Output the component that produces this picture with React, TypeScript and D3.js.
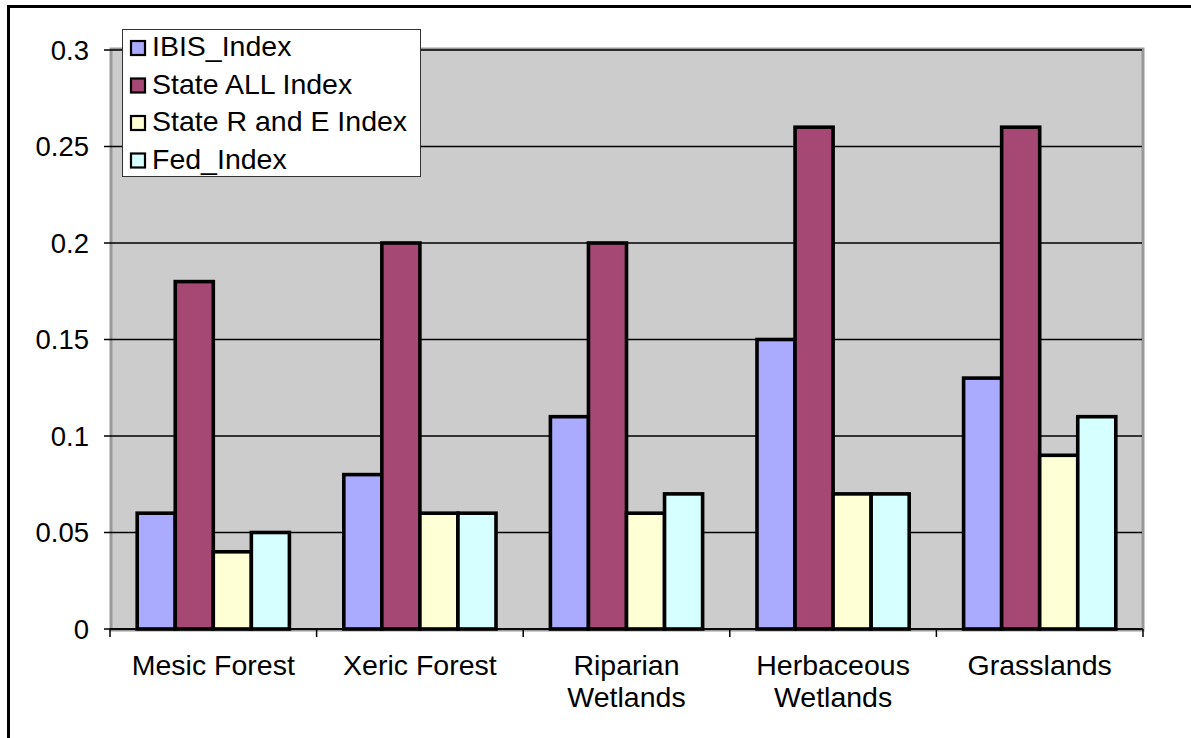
import * as d3 from "d3";

const W = 1191;
const H = 738;

const categories = [
  ["Mesic Forest"],
  ["Xeric Forest"],
  ["Riparian", "Wetlands"],
  ["Herbaceous", "Wetlands"],
  ["Grasslands"],
];
const seriesNames = ["IBIS_Index", "State ALL Index", "State R and E Index", "Fed_Index"];
const ibis = [0.06, 0.08, 0.11, 0.15, 0.13];
const stateAll = [0.18, 0.2, 0.2, 0.26, 0.26];
const stateRE = [0.04, 0.06, 0.06, 0.07, 0.09];
const fed = [0.05, 0.06, 0.07, 0.07, 0.11];
const yTicks = [0, 0.05, 0.1, 0.15, 0.2, 0.25, 0.3];

const COLORS = ["#AAAAFF", "#A64874", "#FFFFD6", "#D6FFFF"];
const FONT = "'Liberation Sans', Arial, sans-serif";

const PL = 110;
const PR = 1143;
const PT = 50;
const PB = 629;

export default function App() {
  const series = [ibis, stateAll, stateRE, fed];
  const idx = categories.map((_, i) => i);

  const x0 = d3.scaleBand<number>().domain(idx).range([PL, PR]).padding(0);
  const gap = 1.43;
  const inner = (x0.bandwidth() * 4) / (4 + gap);
  const x1 = d3
    .scaleBand<number>()
    .domain([0, 1, 2, 3])
    .range([(x0.bandwidth() - inner) / 2, (x0.bandwidth() + inner) / 2])
    .padding(0);
  const y = d3.scaleLinear().domain([0, 0.3]).range([PB, PT]);

  const bounds = d3.range(categories.length + 1).map((i) => PL + i * x0.bandwidth());

  return (
    <svg
      width={W}
      height={H}
      style={{ position: "absolute", left: 0, top: 0, display: "block", background: "#fff" }}
      fontFamily={FONT}
    >
      {/* outer chart border, runs off right and bottom */}
      <rect x={8.5} y={6.5} width={W + 20} height={H + 20} fill="#fff" stroke="#000" strokeWidth={3} />

      {/* plot area */}
      <rect x={PL + 1} y={PT - 1} width={PR - PL - 1} height={PB - PT + 2} fill="#CCCCCC" stroke="#999999" strokeWidth={3} />

      {/* gridlines */}
      {yTicks.map((t) => (
        <line key={t} x1={PL} x2={PR - 1} y1={y(t)} y2={y(t)} stroke="#000" strokeWidth={1.5} />
      ))}

      {/* bars */}
      {idx.map((ci) => (
        <g key={ci} transform={`translate(${x0(ci)},0)`}>
          {series.map((s, si) => (
            <rect
              key={si}
              x={x1(si)}
              y={y(s[ci])}
              width={x1.bandwidth()}
              height={y(0) - y(s[ci])}
              fill={COLORS[si]}
              stroke="#000"
              strokeWidth={3.6}
            />
          ))}
        </g>
      ))}

      {/* x axis */}
      <line x1={PL} x2={PR} y1={PB} y2={PB} stroke="#000" strokeWidth={1.5} />
      {bounds.map((b, i) => (
        <line key={i} x1={b} x2={b} y1={PB} y2={PB + 8} stroke="#000" strokeWidth={1.5} />
      ))}
      {categories.map((lines, ci) => (
        <text key={ci} x={(x0(ci) ?? 0) + x0.bandwidth() / 2} y={675} textAnchor="middle" fontSize={28.5} fill="#000">
          {lines.map((l, li) => (
            <tspan key={li} x={(x0(ci) ?? 0) + x0.bandwidth() / 2} dy={li === 0 ? 0 : 31.5}>
              {l}
            </tspan>
          ))}
        </text>
      ))}

      {/* y axis ticks + labels */}
      {yTicks.map((t) => (
        <g key={t}>
          <line x1={104} x2={PL} y1={y(t)} y2={y(t)} stroke="#000" strokeWidth={1.5} />
          <text x={89} y={y(t)} dy="0.35em" textAnchor="end" fontSize={27.5} fill="#000">
            {d3.format("")(t)}
          </text>
        </g>
      ))}

      {/* legend */}
      <rect x={122.5} y={29.5} width={298} height={147} fill="#fff" stroke="#333" strokeWidth={1} />
      {seriesNames.map((name, i) => {
        const base = 56 + i * 37.5;
        return (
          <g key={name}>
            <rect x={131} y={base - 15} width={14} height={14} fill={COLORS[i]} stroke="#000" strokeWidth={2.2} />
            <text x={152} y={base} fontSize={28.5} fill="#000">
              {name}
            </text>
          </g>
        );
      })}
    </svg>
  );
}
